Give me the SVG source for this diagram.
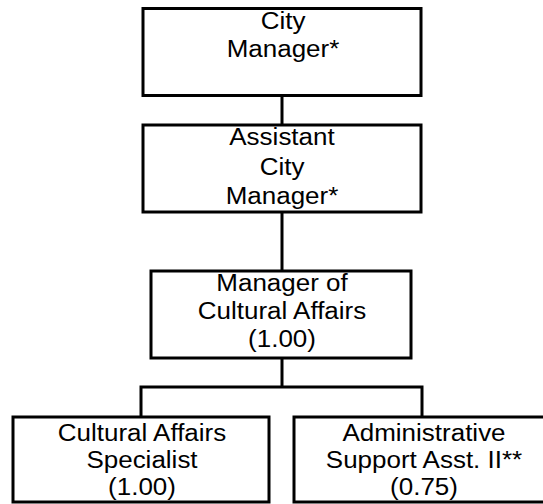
<svg xmlns="http://www.w3.org/2000/svg" width="543" height="504" viewBox="0 0 543 504">
<style>
.box{fill:#fff;stroke:#000;stroke-width:3}
.conn{fill:none;stroke:#000;stroke-width:3}
text{font-family:"Liberation Sans",Arial,sans-serif;font-size:23px;fill:#000;text-anchor:middle}
</style>
<rect width="543" height="504" fill="#fff"/>
<g id="connectors">
<line class="conn" x1="282" y1="95" x2="282" y2="125"/>
<line class="conn" x1="282" y1="212" x2="282" y2="271"/>
<line class="conn" x1="282" y1="358" x2="282" y2="387"/>
<polyline class="conn" points="141,417 141,387 422,387 422,417"/>
</g>
<g id="city-manager">
<rect class="box" x="143" y="8.5" width="278" height="87"/>
<g transform="translate(283 0) scale(1.13 1)"><text x="0" y="29">City</text><text x="0" y="57">Manager*</text></g>
</g>
<g id="assistant-city-manager">
<rect class="box" x="143" y="125" width="278" height="87"/>
<g transform="translate(282 0) scale(1.13 1)"><text x="0" y="145">Assistant</text><text x="0" y="175">City</text><text x="0" y="204">Manager*</text></g>
</g>
<g id="manager-cultural-affairs">
<rect class="box" x="151" y="271" width="260" height="87"/>
<g transform="translate(282 0) scale(1.13 1)"><text x="0" y="291">Manager of</text><text x="0" y="319">Cultural Affairs</text><text x="0" y="347">(1.00)</text></g>
</g>
<g id="cultural-affairs-specialist">
<rect class="box" x="13" y="417" width="256" height="85"/>
<g transform="translate(142 0) scale(1.13 1)"><text x="0" y="441">Cultural Affairs</text><text x="0" y="468">Specialist</text><text x="0" y="495">(1.00)</text></g>
</g>
<g id="admin-support">
<rect class="box" x="294" y="417" width="256" height="85"/>
<g transform="translate(424 0) scale(1.13 1)"><text x="0" y="441">Administrative</text><text x="0" y="468">Support Asst. II**</text><text x="0" y="495">(0.75)</text></g>
</g>
</svg>
